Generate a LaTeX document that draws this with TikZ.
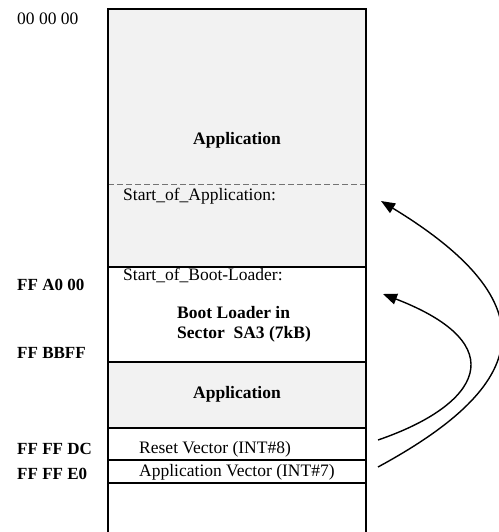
\documentclass[tikz,border=0pt]{standalone}
\usepackage{fontspec}
\setmainfont{Liberation Serif}
\usetikzlibrary{arrows.meta}

\tikzset{
	addr/.style={anchor=west, font=\fontsize{17}{19}\selectfont\bfseries},
	txt/.style={anchor=west, font=\fontsize{17.5}{19}\selectfont},
	head/.style={font=\fontsize{17.5}{20}\selectfont\bfseries},
	shade/.style={fill=black!5},
	flow/.style={line width=1.4pt, -{Triangle[length=14pt,width=11pt]}},
}

\begin{document}
\begin{tikzpicture}[x=1pt, y=-1pt, line width=1.8pt]
		\useasboundingbox (0,0) rectangle (498,532);
		% memory map
		\fill[shade] (108,9) rectangle (366,267);
		\fill[shade] (108,362) rectangle (366,428);
		\draw[black!55, line width=0.9pt, dash pattern=on 6pt off 3pt] (108,184) -- (366,184);
		\draw (108,532) -- (108,9) -- (366,9) -- (366,532);
		\draw (108,267) -- (366,267);
		\draw (108,362) -- (366,362);
		\draw (108,428) -- (366,428);
		\draw (108,460) -- (366,460);
		\draw (108,483) -- (366,483);
		% addresses
		\node (a0) [txt] at (13,19) {00 00 00};
		\node (a1) [addr] at (13,285) {FF A0 00};
		\node (a2) [addr] at (13,353) {FF BBFF};
		\node (a3) [addr] at (13,449) {FF FF DC};
		\node (a4) [addr] at (13,474) {FF FF E0};
		% regions
		\node (app1) [head] at (237,140) {Application};
		\node (soa) [txt] at (119,196) {Start\_of\_Application:};
		\node (sob) [txt] at (119,275) {Start\_of\_Boot-Loader:};
		\node (boot) [head, anchor=west, align=left] at (173,324) {Boot Loader in\\Sector\ \ SA3 (7kB)};
		\node (app2) [head] at (237,394) {Application};
		\node (reset) [txt] at (135,449) {Reset Vector (INT\#8)};
		\node (appvec) [txt] at (135,472) {Application Vector (INT\#7)};
		% jumps
		\coordinate (rv) at (378,440);
		\coordinate (av) at (378,467);
		\coordinate (toboot) at (383,294);
		\coordinate (toapp) at (381,201);
		\draw[flow] (rv) .. controls (480,405) and (515,345) .. (toboot);
		\draw[flow] (av) .. controls (520,390) and (560,310) .. (toapp);
	\end{tikzpicture}
\end{document}
